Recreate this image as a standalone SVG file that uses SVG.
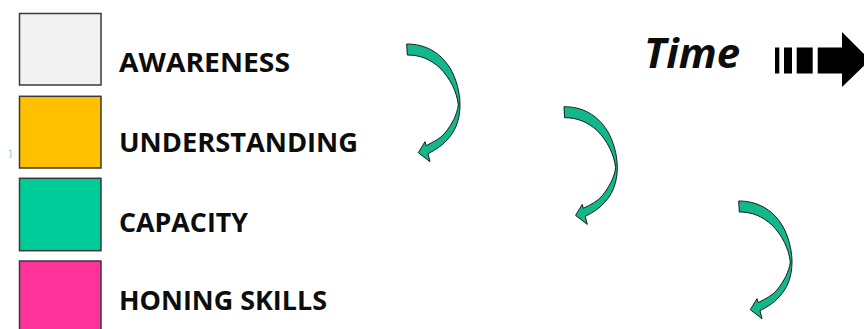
<svg xmlns="http://www.w3.org/2000/svg" xmlns:xlink="http://www.w3.org/1999/xlink" width="864" height="329" viewBox="0 0 864 329">
<style>
.box{stroke:#3a3a3a;stroke-width:1.5}
.lbl{font-family:"Open Sans","Liberation Sans",sans-serif;font-weight:bold;font-size:27.5px;fill:#0d0d0d}
.time{font-family:"Open Sans","Liberation Sans",sans-serif;font-weight:bold;font-style:italic;font-size:41px;fill:#0d0d0d}
.curve{fill:#12B88A;stroke:#1a1a1a;stroke-width:1;stroke-linejoin:round}
</style>
<defs>
<path id="carrow" d="M 406.7 44 C 425 44 440 52 450 68 C 456 78 460 92 460 105 C 460 120 455 132 447 140 C 442 146 435 150 428 153.7 L 430 161.7 L 418.3 152.7 L 425 141.7 L 426 145.7 C 433 142 440 139 445 133 C 452 124 457 115 458.3 105 C 457 92 450 78 440 68 C 430 59 420 55 407.3 55 Z"/>
</defs>
<rect width="864" height="329" fill="#ffffff"/>
<g id="awareness">
<rect class="box" x="19.5" y="13.5" width="81.5" height="71.5" fill="#F2F2F2"/>
<text class="lbl" x="119" y="71.5" textLength="171" lengthAdjust="spacingAndGlyphs">AWARENESS</text>
</g>
<g id="understanding">
<rect class="box" x="19.5" y="96.3" width="81.5" height="71.7" fill="#FFC000"/>
<text class="lbl" x="119" y="151.5" textLength="239" lengthAdjust="spacingAndGlyphs">UNDERSTANDING</text>
</g>
<g id="capacity">
<rect class="box" x="19.5" y="178.3" width="81.5" height="72.4" fill="#00CC99"/>
<text class="lbl" x="119" y="232.3" textLength="129" lengthAdjust="spacingAndGlyphs">CAPACITY</text>
</g>
<g id="honing">
<rect class="box" x="19.5" y="261" width="81.5" height="74" fill="#FF3399"/>
<text class="lbl" x="119" y="310" textLength="208" lengthAdjust="spacingAndGlyphs">HONING SKILLS</text>
</g>
<g id="time">
<text class="time" x="644" y="67.5" textLength="96" lengthAdjust="spacingAndGlyphs">Time</text>
<rect x="775" y="47.5" width="4.3" height="26" fill="#000"/>
<rect x="784" y="47.5" width="8" height="26" fill="#000"/>
<rect x="796.7" y="47.5" width="16" height="26" fill="#000"/>
<polygon points="817.7,47.5 842,47.5 842,32 870,60 842,87 842,73.5 817.7,73.5" fill="#000"/>
</g>
<path d="M9 150.5 h2 v6.5 h-2" fill="none" stroke="#9DC3E6" stroke-width="1"/>
<g id="connectors">
<use xlink:href="#carrow" class="curve"/>
<use xlink:href="#carrow" class="curve" transform="translate(157.3,62.7)"/>
<use xlink:href="#carrow" class="curve" transform="translate(332,157)"/>
</g>
</svg>
